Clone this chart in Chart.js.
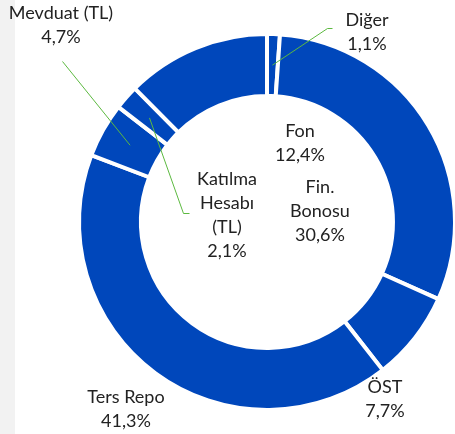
<!DOCTYPE html>
<html>
<head>
<meta charset="utf-8">
<script src="https://cdn.jsdelivr.net/npm/chart.js@4"></script>
<style>
  html, body { margin: 0; padding: 0; background: #fff; overflow: hidden; }
  body { width: 455px; height: 434px; position: relative; }
  #strip { position: absolute; left: 0; top: 0; width: 15px; height: 434px; background: #f2f2f2; }
  #wrap { position: absolute; left: 0; top: 0; width: 480px; height: 434px; }
</style>
</head>
<body>
<div id="strip"></div>
<div id="wrap"><canvas id="pieChart"></canvas></div>
<script>
// 데이터 (시계 방향, 위에서 시작)
const categories = ["Diğer", "Fin. Bonosu", "ÖST", "Ters Repo", "Mevduat (TL)", "Katılma Hesabı (TL)", "Fon"];
const shares = [1.1, 30.6, 7.7, 41.3, 4.7, 2.1, 12.4];
const labelLines = [["Diğer"], ["Fin.", "Bonosu"], ["ÖST"], ["Ters Repo"], ["Mevduat (TL)"], ["Katılma", "Hesabı", "(TL)"], ["Fon"]];

// 라벨 위치 (차트 중심 기준 오프셋) + 지시선 시작점
const labelLayout = [
  { dx: 100, dy: -202, leader: [[65.5, -193.5], [60.5, -193.5]] },
  { dx: 53, dy: -35 },
  { dx: 118, dy: 165 },
  { dx: -141, dy: 175 },
  { dx: -206, dy: -209, leader: [[-204.5, -160.5]] },
  { dx: -40, dy: -43, leader: [[-77.5, -8.5], [-83.5, -8.5]] },
  { dx: 33, dy: -91 }
];

const pct = v => v.toFixed(1).replace(".", ",") + "%";

const sliceLabels = {
  id: "sliceLabels",
  afterDatasetsDraw(chart) {
    const ctx = chart.ctx;
    const arcs = chart.getDatasetMeta(0).data;
    const cx = arcs[0].x, cy = arcs[0].y;
    ctx.save();

    // 지시선
    ctx.strokeStyle = "#5cb940";
    ctx.lineWidth = 1;
    labelLayout.forEach((l, i) => {
      if (!l.leader) return;
      const p = arcs[i].getCenterPoint();
      ctx.beginPath();
      ctx.moveTo(cx + l.leader[0][0], cy + l.leader[0][1]);
      for (let k = 1; k < l.leader.length; k++) ctx.lineTo(cx + l.leader[k][0], cy + l.leader[k][1]);
      ctx.lineTo(p.x, p.y);
      ctx.stroke();
    });

    // 텍스트
    ctx.fillStyle = "#222222";
    ctx.font = "18px Lato";
    ctx.textAlign = "center";
    ctx.textBaseline = "middle";
    labelLayout.forEach((l, i) => {
      const lines = labelLines[i].concat([pct(shares[i])]);
      lines.forEach((t, k) => ctx.fillText(t, cx + l.dx, cy + l.dy + k * 24));
    });
    ctx.restore();
  }
};

const ctx = document.getElementById("pieChart").getContext("2d");
new Chart(ctx, {
  type: "doughnut",
  data: {
    labels: categories,
    datasets: [{
      data: shares,
      backgroundColor: "#0047bb",
      borderColor: "#ffffff",
      borderWidth: 4
    }]
  },
  options: {
    responsive: true,
    maintainAspectRatio: false,
    animation: false,
    cutout: "67%",
    layout: { padding: { left: 77, top: 32, right: 23, bottom: 22 } },
    plugins: {
      legend: { display: false },
      tooltip: { enabled: false }
    }
  },
  plugins: [sliceLabels]
});
</script>
</body>
</html>
